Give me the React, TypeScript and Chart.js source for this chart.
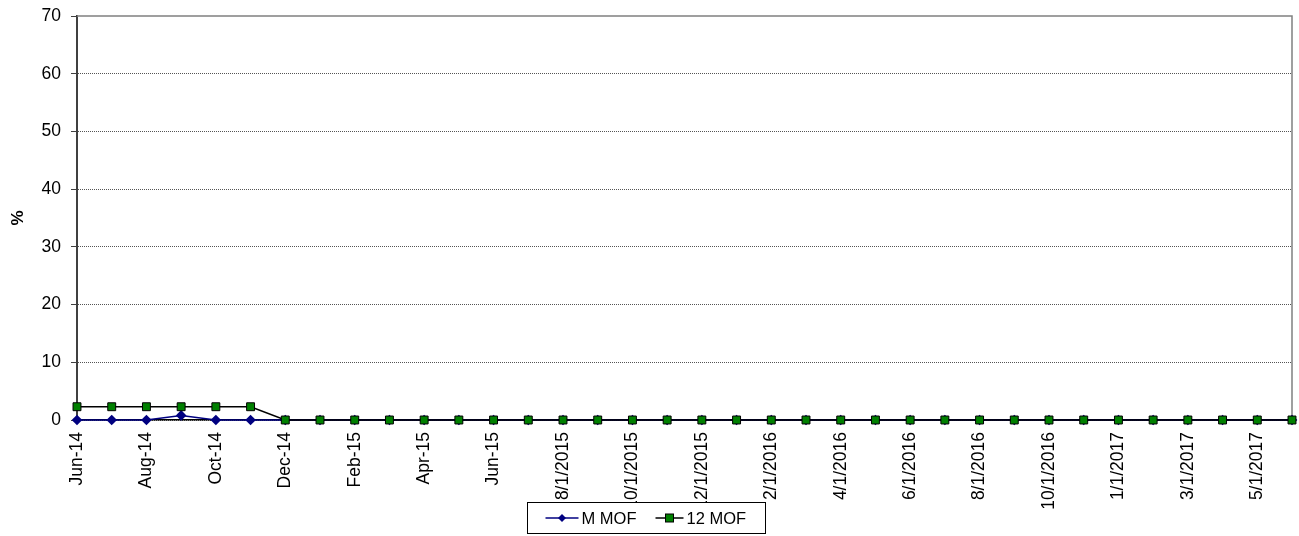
import React, { useEffect, useRef } from "react";
import { Chart, registerables } from "chart.js";

Chart.register(...registerables);

const categories: string[] = [
  "Jun-14", "Jul-14", "Aug-14", "Sep-14", "Oct-14", "Nov-14", "Dec-14",
  "Jan-15", "Feb-15", "Mar-15", "Apr-15", "May-15", "Jun-15",
  "7/1/2015", "8/1/2015", "9/1/2015", "10/1/2015", "11/1/2015", "12/1/2015",
  "1/1/2016", "2/1/2016", "3/1/2016", "4/1/2016", "5/1/2016", "6/1/2016",
  "7/1/2016", "8/1/2016", "9/1/2016", "10/1/2016", "11/1/2016",
  "1/1/2017", "2/1/2017", "3/1/2017", "4/1/2017", "5/1/2017", "6/1/2017",
];

const mMof: number[] = [
  0, 0, 0, 0.8, 0, 0, 0, 0, 0, 0, 0, 0, 0,
  0, 0, 0, 0, 0, 0, 0, 0, 0, 0, 0, 0,
  0, 0, 0, 0, 0, 0, 0, 0, 0, 0, 0,
];

const twelveMof: number[] = [
  2.3, 2.3, 2.3, 2.3, 2.3, 2.3, 0, 0, 0, 0, 0, 0, 0,
  0, 0, 0, 0, 0, 0, 0, 0, 0, 0, 0, 0,
  0, 0, 0, 0, 0, 0, 0, 0, 0, 0, 0,
];

const seriesNames = ["M MOF", "12 MOF"];
const yMin = 0;
const yMax = 70;
const yStep = 10;

const FONT = "Arial, 'Liberation Sans', sans-serif";

const framePlugin = {
  id: "frame",
  beforeDatasetsDraw(chart: any) {
    const { ctx, chartArea } = chart;
    ctx.save();
    ctx.strokeStyle = "#808080";
    ctx.lineWidth = 1.5;
    ctx.beginPath();
    ctx.moveTo(chartArea.left, chartArea.top);
    ctx.lineTo(chartArea.right, chartArea.top);
    ctx.lineTo(chartArea.right, chartArea.bottom);
    ctx.stroke();
    ctx.restore();
  },
};

const legendPlugin = {
  id: "customLegend",
  afterDraw(chart: any) {
    const { ctx, width } = chart;
    const boxW = 238;
    const boxH = 31;
    const cx = width / 2 - 4;
    const x0 = Math.round(cx - boxW / 2) + 0.5;
    const y0 = 502.5;
    ctx.save();
    ctx.fillStyle = "#ffffff";
    ctx.fillRect(x0, y0, boxW, boxH);
    ctx.strokeStyle = "#000000";
    ctx.lineWidth = 1;
    ctx.strokeRect(x0, y0, boxW, boxH);
    const midY = y0 + boxH / 2;
    ctx.font = `16.5px ${FONT}`;
    ctx.textBaseline = "middle";
    ctx.fillStyle = "#000";
    let lx = x0 + 18;
    ctx.strokeStyle = "#000080";
    ctx.lineWidth = 1.5;
    ctx.beginPath();
    ctx.moveTo(lx, midY);
    ctx.lineTo(lx + 33, midY);
    ctx.stroke();
    ctx.fillStyle = "#000080";
    ctx.beginPath();
    const d = 4;
    const mx = lx + 16.5;
    ctx.moveTo(mx, midY - d);
    ctx.lineTo(mx + d, midY);
    ctx.lineTo(mx, midY + d);
    ctx.lineTo(mx - d, midY);
    ctx.closePath();
    ctx.fill();
    ctx.fillStyle = "#000";
    ctx.fillText(seriesNames[0], lx + 36, midY + 1);
    lx = x0 + 128;
    ctx.strokeStyle = "#000000";
    ctx.beginPath();
    ctx.moveTo(lx, midY);
    ctx.lineTo(lx + 28, midY);
    ctx.stroke();
    ctx.fillStyle = "#008000";
    ctx.fillRect(lx + 10, midY - 4, 8, 8);
    ctx.lineWidth = 1;
    ctx.strokeRect(lx + 10, midY - 4, 8, 8);
    ctx.fillStyle = "#000";
    ctx.fillText(seriesNames[1], lx + 31, midY + 1);
    ctx.restore();
  },
};

export default function App() {
  const ref = useRef<HTMLCanvasElement | null>(null);

  useEffect(() => {
    document.body.style.margin = "0";
    const canvas = ref.current;
    if (!canvas) return;
    const chart = new Chart(canvas, {
      type: "line",
      data: {
        labels: categories,
        datasets: [
          {
            label: seriesNames[0],
            data: mMof,
            borderColor: "#000080",
            backgroundColor: "#000080",
            borderWidth: 1.5,
            pointStyle: "rectRot",
            pointRadius: 5.3,
            pointBorderWidth: 0,
            pointBackgroundColor: "#000080",
            pointBorderColor: "#000080",
            tension: 0,
            clip: false,
            order: 1,
          } as any,
          {
            label: seriesNames[1],
            data: twelveMof,
            borderColor: "#000000",
            backgroundColor: "#008000",
            borderWidth: 1.5,
            pointStyle: "rect",
            pointRadius: 5.6,
            pointBorderWidth: 1,
            pointBackgroundColor: "#008000",
            pointBorderColor: "#000000",
            tension: 0,
            clip: false,
            order: 0,
          } as any,
        ],
      },
      options: {
        animation: false,
        responsive: false,
        maintainAspectRatio: false,
        layout: { padding: { top: 16, right: 7, left: 0, bottom: 0 } },
        plugins: {
          legend: { display: false },
          tooltip: { enabled: false },
          title: { display: false },
        },
        scales: {
          x: {
            type: "category",
            offset: false,
            grid: { display: false, drawTicks: false },
            border: { display: true, color: "#000000", width: 1.5 },
            ticks: {
              autoSkip: false,
              minRotation: 90,
              maxRotation: 90,
              padding: 12,
              color: "#000000",
              font: { family: FONT, size: 17.5 },
              callback: (_v: any, i: number) => (i % 2 === 0 ? categories[i] : ""),
            },
            afterFit: (scale: any) => {
              scale.height = 116;
              scale.paddingLeft = 0;
              scale.paddingRight = 0;
            },
          },
          y: {
            min: yMin,
            max: yMax,
            grid: {
              color: (c: any) => (c.tick && c.tick.value === yMax ? "rgba(0,0,0,0)" : "#555555"),
              lineWidth: 1,
              tickColor: "#404040",
              tickLength: 6,
              drawTicks: true,
            },
            border: { display: true, color: "#404040", width: 2, dash: [1, 1] },
            ticks: {
              stepSize: yStep,
              padding: 10,
              color: "#000000",
              font: { family: FONT, size: 17.5 },
            },
            title: {
              display: true,
              text: "%",
              color: "#000000",
              font: { family: FONT, size: 17, weight: "bold" },
              padding: { top: 8, bottom: 0 },
            },
            afterFit: (scale: any) => {
              scale.width = 77;
              scale.paddingTop = 0;
              scale.paddingBottom = 0;
            },
          },
        },
      },
      plugins: [framePlugin, legendPlugin],
    });
    return () => chart.destroy();
  }, []);

  return (
    <div style={{ width: 1299, height: 536, position: "relative" }}>
      <canvas ref={ref} width={1299} height={536} style={{ display: "block" }} />
    </div>
  );
}
